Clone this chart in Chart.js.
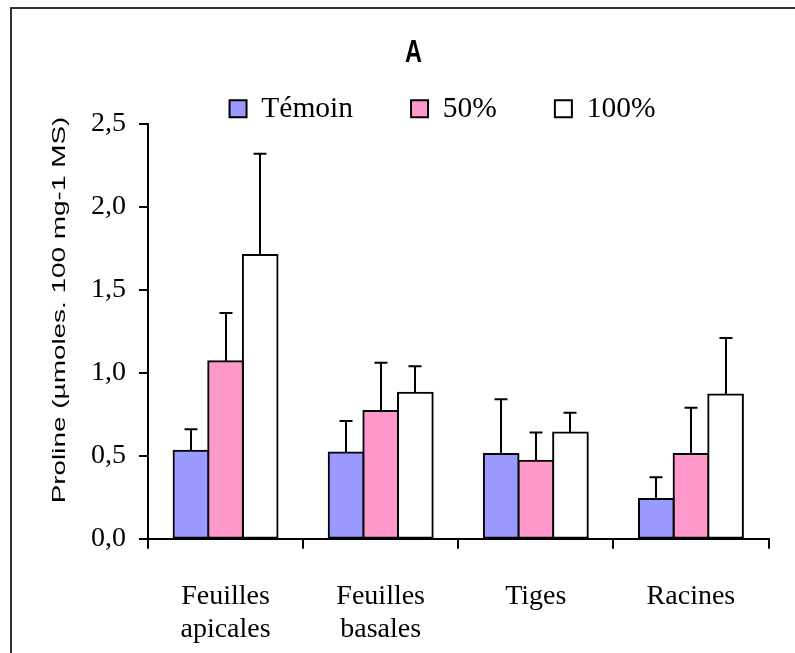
<!DOCTYPE html>
<html><head><meta charset="utf-8">
<script src="https://cdn.jsdelivr.net/npm/chart.js@4.4.1/dist/chart.umd.min.js"></script>
<style>html,body{margin:0;padding:0;background:#fff;overflow:hidden}canvas{display:block}</style>
</head><body>
<canvas id="c" width="795" height="653" style="width:795px;height:653px"></canvas>
<script>
const categories = [['Feuilles','apicales'],['Feuilles','basales'],'Tiges','Racines'];
const seriesNames = ['Témoin','50%','100%'];
const temoin    = [0.53, 0.52, 0.51, 0.24];
const temoinErr = [0.13, 0.19, 0.33, 0.13];
const p50       = [1.07, 0.77, 0.47, 0.51];
const p50Err    = [0.29, 0.29, 0.17, 0.28];
const p100      = [1.71, 0.88, 0.64, 0.87];
const p100Err   = [0.61, 0.16, 0.12, 0.34];
const yTicks = [0, 0.5, 1.0, 1.5, 2.0, 2.5];
const titleText = 'A';
const yTitleText = 'Proline (µmoles. 100 mg-1 MS)';

const SERIF = '"Liberation Serif", "Times New Roman", serif';
const SANS = '"Liberation Sans", Arial, sans-serif';

const background = {
  id: 'background',
  beforeDraw(chart) {
    const ctx = chart.ctx;
    ctx.save();
    ctx.fillStyle = '#fff';
    ctx.fillRect(0, 0, chart.width, chart.height);
    ctx.fillStyle = '#333';
    ctx.fillRect(10, 7, 2, chart.height - 7);
    ctx.fillRect(10, 7, chart.width - 10, 2);
    ctx.restore();
  }
};

// centre the legend row where the reference has it
const legendShift = {
  id: 'legendShift',
  afterLayout(chart) {
    const l = chart.legend;
    if (!l) return;
    const d = 442.5 - (l.left + l.right) / 2;
    l.left += d;
    l.right += d;
  }
};

const errorBars = {
  id: 'errorBars',
  afterDatasetsDraw(chart) {
    const ctx = chart.ctx;
    const y = chart.scales.y;
    ctx.save();
    ctx.strokeStyle = '#000';
    ctx.lineWidth = 2;
    chart.data.datasets.forEach((ds, i) => {
      const meta = chart.getDatasetMeta(i);
      meta.data.forEach((bar, j) => {
        const top = y.getPixelForValue(ds.data[j] + ds.errors[j]);
        const x = Math.round(bar.x);
        ctx.beginPath();
        ctx.moveTo(x, y.getPixelForValue(ds.data[j]));
        ctx.lineTo(x, top);
        ctx.moveTo(x - 6.5, top);
        ctx.lineTo(x + 6.5, top);
        ctx.stroke();
      });
    });
    ctx.restore();
  }
};

const texts = {
  id: 'texts',
  afterDraw(chart) {
    const ctx = chart.ctx;
    ctx.save();
    ctx.fillStyle = '#000';
    ctx.font = 'bold 23.5px ' + SANS;
    ctx.textAlign = 'center';
    ctx.textBaseline = 'alphabetic';
    ctx.translate(413.5, 62);
    ctx.scale(1, 1.37);
    ctx.fillText(titleText, 0, 0);
    ctx.restore();

    ctx.save();
    ctx.fillStyle = '#000';
    ctx.font = '18px ' + SANS;
    ctx.textAlign = 'center';
    ctx.textBaseline = 'alphabetic';
    ctx.translate(65, 310);
    ctx.rotate(-Math.PI / 2);
    ctx.scale(1.55, 1);
    ctx.fillText(yTitleText, 0, 0);
    ctx.restore();
  }
};

const mkDs = (label, data, errors, color) => ({
  label, data, errors,
  backgroundColor: color,
  borderColor: '#000',
  borderWidth: 2,
  borderSkipped: false,
  inflateAmount: 1,
  categoryPercentage: 0.67,
  barPercentage: 1.0
});

new Chart(document.getElementById('c'), {
  type: 'bar',
  data: {
    labels: categories,
    datasets: [
      mkDs(seriesNames[0], temoin, temoinErr, '#9999FF'),
      mkDs(seriesNames[1], p50, p50Err, '#FF99CC'),
      mkDs(seriesNames[2], p100, p100Err, '#FFFFFF')
    ]
  },
  options: {
    responsive: false,
    animation: false,
    devicePixelRatio: 1,
    layout: { padding: { left: 12, right: 26.5, top: 36, bottom: 0 } },
    plugins: {
      tooltip: { enabled: false },
      title: { display: false },
      legend: {
        display: true,
        position: 'top',
        maxHeight: 88,
        labels: {
          color: '#000',
          font: { family: SERIF, size: 29.5 },
          boxWidth: 17,
          boxHeight: 17,
          padding: 58
        }
      }
    },
    scales: {
      x: {
        afterFit(s) { s.height = 114.3; },
        grid: { offset: true, drawOnChartArea: false, drawTicks: true, tickLength: 10, color: '#000', lineWidth: 2 },
        border: { display: true, color: '#000', width: 2 },
        ticks: { color: '#000', padding: 31, maxRotation: 0, font: { family: SERIF, size: 28, lineHeight: 1.18 } }
      },
      y: {
        min: 0, max: 2.5,
        afterFit(s) { s.width = 136; },
        afterBuildTicks(s) { s.ticks = yTicks.map(v => ({ value: v })); },
        grid: { drawOnChartArea: false, drawTicks: true, tickLength: 9, color: '#000', lineWidth: 2 },
        border: { display: true, color: '#000', width: 2 },
        ticks: {
          color: '#000', padding: 13,
          font: { family: SERIF, size: 28 },
          callback: v => Number(v).toFixed(1).replace('.', ',')
        }
      }
    }
  },
  plugins: [background, legendShift, errorBars, texts]
});
</script>
</body></html>
